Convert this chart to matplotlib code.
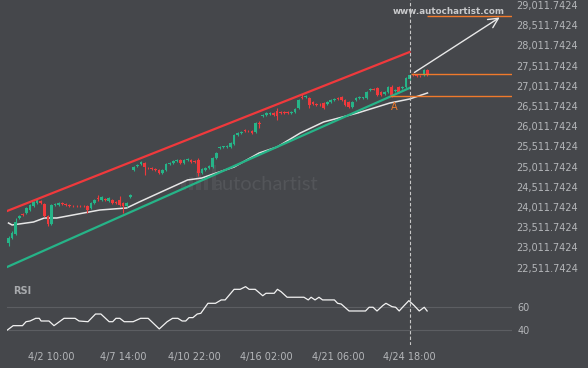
import matplotlib.pyplot as plt
from matplotlib.patches import Rectangle

# candles (4h), index 0..117
opens = [23121, 23245, 23344, 23740, 23839, 23864, 23938, 24037, 24111, 24161,
         24087, 23790, 23592, 24062, 24062, 24111, 24087, 24062, 24037, 24037,
         24037, 24037, 24037, 23988, 24111, 24235, 24186, 24210, 24161, 24186,
         24136, 24186, 24111, 24037, 24260, 24928, 25027, 25077, 25101, 24978,
         24978, 24953, 24928, 24854, 24928, 25077, 25101, 25151, 25176, 25101,
         25176, 25176, 25151, 25176, 24854, 24928, 24978, 25002, 25225, 25473,
         25497, 25497, 25497, 25572, 25794, 25844, 25918, 25893, 25893, 25869,
         26091, 26265, 26289, 26314, 26339, 26388, 26364, 26364, 26364, 26339,
         26364, 26463, 26735, 26735, 26710, 26611, 26562, 26562, 26586, 26562,
         26611, 26660, 26710, 26735, 26660, 26611, 26487, 26660, 26710, 26710,
         26710, 26908, 26933, 26958, 26859, 26809, 26859, 26982, 26883, 26982,
         26958, 26982, 27180, 27304, 27279, 27255, 27279, 27403]
closes = [23245, 23368, 23641, 23790, 23815, 23988, 24062, 24136, 24186, 24111,
          23790, 23592, 24062, 24087, 24111, 24087, 24062, 24037, 24030, 24025,
          24030, 24025, 23938, 24111, 24186, 24210, 24260, 24186, 24235, 24111,
          24111, 24062, 24037, 24111, 24310, 25002, 25052, 25126, 25002, 24970,
          24953, 24928, 24854, 24928, 25077, 25101, 25151, 25176, 25101, 25176,
          25200, 25126, 25126, 24854, 24953, 24978, 25027, 25225, 25349, 25497,
          25510, 25522, 25596, 25794, 25844, 25869, 25893, 25881, 25844, 26091,
          26067, 26289, 26339, 26339, 26289, 26265, 26339, 26339, 26339, 26364,
          26438, 26660, 26710, 26760, 26537, 26562, 26537, 26549, 26463, 26611,
          26660, 26685, 26685, 26660, 26537, 26487, 26611, 26710, 26735, 26722,
          26859, 26933, 26920, 26784, 26784, 26859, 26982, 26784, 26908, 26859,
          26982, 27205, 27279, 27279, 27255, 27242, 27403, 27279]
highs = [23290, 23420, 23740, 23820, 23870, 24010, 24090, 24160, 24230, 24190,
         24110, 23810, 24090, 24110, 24140, 24130, 24100, 24080, 24060, 24060,
         24060, 24060, 24060, 24130, 24210, 24310, 24290, 24240, 24260, 24210,
         24160, 24290, 24130, 24130, 24340, 25030, 25080, 25150, 25130, 25000,
         25000, 24980, 24950, 24950, 25100, 25130, 25180, 25200, 25200, 25200,
         25230, 25200, 25170, 25230, 24980, 25000, 25050, 25250, 25380, 25520,
         25530, 25550, 25620, 25820, 25870, 25890, 25950, 25920, 25910, 26110,
         26140, 26310, 26360, 26360, 26360, 26460, 26390, 26390, 26390, 26390,
         26460, 26690, 26810, 26790, 26740, 26640, 26590, 26590, 26610, 26640,
         26690, 26710, 26740, 26760, 26690, 26640, 26640, 26740, 26760, 26740,
         26880, 26960, 26950, 26990, 26880, 26880, 27010, 27030, 26930, 27010,
         27010, 27230, 27310, 27330, 27300, 27270, 27420, 27420]
lows = [23050, 23220, 23320, 23720, 23790, 23840, 23910, 24010, 24090, 24090,
        23770, 23540, 23560, 24040, 24040, 24060, 24040, 24010, 24010, 24000,
        24010, 24000, 23860, 23960, 24090, 24160, 24160, 24160, 24140, 24090,
        24090, 24040, 23860, 24010, 24240, 24900, 25000, 25050, 24800, 24950,
        24930, 24900, 24830, 24830, 24900, 25060, 25080, 25130, 25080, 25080,
        25150, 25100, 25100, 24780, 24830, 24900, 24950, 24980, 25200, 25450,
        25480, 25470, 25470, 25550, 25770, 25820, 25870, 25860, 25820, 25850,
        25970, 26240, 26270, 26290, 26270, 26170, 26310, 26310, 26310, 26310,
        26340, 26440, 26680, 26710, 26460, 26540, 26510, 26520, 26440, 26540,
        26590, 26640, 26660, 26640, 26510, 26460, 26460, 26640, 26690, 26690,
        26690, 26890, 26900, 26760, 26760, 26790, 26840, 26735, 26860, 26840,
        26940, 26960, 27160, 27260, 27230, 27220, 27260, 27260]

# moving average read at a few points
ma_idx = [0, 1, 7, 10, 13.5, 21, 25.5, 33, 36.5, 42, 50, 54, 58, 63, 70, 75,
          81.5, 88, 97.5, 106.5, 112, 117]
ma_vals = [23616, 23567, 23641, 23740, 23740, 23864, 23938, 23988, 24136, 24359,
           24681, 24730, 24854, 25002, 25349, 25497, 25844, 26116, 26339, 26586,
           26685, 26834]

# channel
chan_idx = [-0.4, 112]
resist_vals = [23913, 27848]
support_vals = [22527, 26958]

# forecast levels
arrow_from = (112.7, 27304)
arrow_to = (137.8, 28740)
level_top = 28740
level_mid = 27304
level_low = 26760
level_top_start = 116.9
level_mid_start = 112.3
level_low_start = 106.6
marker_a = (107.7, 26600)

event_idx = 112

# RSI
rsi_idx = [-0.3, 1.3, 3.9, 4.9, 6.0, 7.6, 8.6, 9.1, 11.3, 12.7, 15.5, 18.6, 19.7,
           22.2, 24.3, 25.8, 28.1, 29.1, 30.0, 31.1, 32.3, 34.8, 36.9, 39.0, 42.1,
           44.3, 45.8, 47.3, 48.5, 49.5, 50.4, 51.5, 52.7, 53.7, 55.7, 57.8, 59.4,
           60.5, 63.0, 64.7, 66.2, 67.2, 68.9, 71.0, 71.9, 74.2, 75.1, 76.1, 77.8,
           82.5, 83.7, 84.5, 85.6, 86.7, 87.7, 91.0, 91.9, 92.9, 95.1, 99.7, 100.7,
           101.8, 102.9, 104.5, 105.4, 107.1, 108.1, 109.1, 110.2, 111.8, 113.3,
           114.7, 116.1, 116.9]
rsi_vals = [40.0, 43.7, 43.7, 47.1, 47.7, 50.0, 50.0, 47.7, 47.7, 43.7, 50.0, 50.0,
            47.7, 47.1, 53.7, 53.7, 47.1, 47.1, 50.0, 50.0, 47.1, 47.1, 50.0, 50.0,
            40.9, 47.1, 50.0, 50.0, 47.7, 47.7, 50.6, 50.6, 53.7, 54.3, 62.9, 62.9,
            65.8, 65.8, 74.9, 74.9, 77.2, 74.9, 74.9, 69.4, 71.5, 71.5, 74.9, 72.9,
            68.1, 68.1, 65.8, 68.1, 65.8, 68.1, 65.8, 65.8, 62.9, 62.3, 56.3, 56.3,
            59.5, 59.5, 56.3, 60.9, 62.9, 60.0, 59.5, 56.3, 60.0, 65.2, 60.9, 56.3,
            59.5, 56.3]

tick_idx = [12, 32, 52, 72, 92, 112]
tick_labels = ["4/2 10:00", "4/7 14:00", "4/10 22:00", "4/16 02:00", "4/21 06:00", "4/24 18:00"]
price_ticks = [22511.7424 + 500 * k for k in range(14)]

bg = "#45474b"
txt = "#b4b6b9"
up_c = "#26b488"
dn_c = "#f0393c"
orange = "#f07a2c"

W, H = 588, 368
fig = plt.figure(figsize=(W / 100, H / 100), dpi=100, facecolor=bg)
ax = fig.add_axes([7 / W, 1 - 278 / H, 505 / W, 278 / H], facecolor=bg)
ar = fig.add_axes([7 / W, 1 - 345 / H, 505 / W, 65 / H], facecolor=bg, sharex=ax)

xmin, xmax = -0.42, 140.6
ax.set_xlim(xmin, xmax)
ax.set_ylim(22255, 29135)
ar.set_ylim(27.1, 82.9)

# watermark
ax.text(0.407, 0.335, "autochartist", transform=ax.transAxes, color="#535559",
        fontsize=14.5, family="Lato", va="center", ha="left", zorder=0)
for bx, bh in [(0.345, 0.03), (0.36, 0.05), (0.375, 0.07), (0.39, 0.05), (0.405, 0.09)]:
    ax.add_patch(Rectangle((bx, 0.315), 0.009, bh, transform=ax.transAxes,
                           color="#4f5155", zorder=0, lw=0))

# candles
for i in range(len(opens)):
    o, c = opens[i], closes[i]
    col = up_c if c >= o else dn_c
    ax.vlines(i, lows[i], highs[i], color=col, lw=0.8, zorder=3)
    ax.bar(i, max(abs(c - o), 14), bottom=min(o, c), width=0.75, color=col,
           lw=0, zorder=3)

ax.plot(ma_idx, ma_vals, color="#e6e6e6", lw=1.1, zorder=2)
ax.plot(chan_idx, resist_vals, color=dn_c, lw=1.6, zorder=4)
ax.plot(chan_idx, support_vals, color=up_c, lw=1.6, zorder=4)

ax.hlines(level_top, level_top_start, xmax, color=orange, lw=1.0, zorder=4)
ax.hlines(level_mid, level_mid_start, xmax, color=orange, lw=1.0, zorder=4)
ax.hlines(level_low, level_low_start, xmax, color=orange, lw=1.0, zorder=4)
ax.annotate("", xy=arrow_to, xytext=arrow_from,
            arrowprops=dict(arrowstyle="->,head_length=0.7,head_width=0.35",
                            color="#e8e8e8", lw=1.0), zorder=5)
ax.text(marker_a[0], marker_a[1], "A", color=orange, fontsize=7, ha="center", va="top")

ax.text(0.985, 0.957, "www.autochartist.com", transform=ax.transAxes, color="#c9cacc",
        fontsize=6.3, ha="right", va="center", fontweight="bold")

for a in (ax, ar):
    a.axvline(event_idx, color="#c8c8c8", lw=0.8, ls=(0, (3, 2)), zorder=6)
    for s in a.spines.values():
        s.set_visible(False)
    a.yaxis.tick_right()
    a.tick_params(length=0, colors=txt, labelsize=7)

ax.set_yticks(price_ticks)
ax.set_yticklabels([f"{v:,.4f}" for v in price_ticks])
ax.tick_params(axis="y", pad=3)
ax.tick_params(axis="x", labelbottom=False)

# RSI
ar.axhline(60, color="#5c5e62", lw=0.8)
ar.axhline(40, color="#5c5e62", lw=0.8)
ar.plot(rsi_idx, rsi_vals, color="#f2f2f2", lw=0.9)
ar.set_yticks([40, 60])
ar.set_yticklabels(["40", "60"])
ar.tick_params(axis="y", pad=4)
ar.set_xticks(tick_idx)
ar.set_xticklabels(tick_labels)
ar.tick_params(axis="x", pad=5)
ar.text(0.012, 0.83, "RSI", transform=ar.transAxes, color="#a8aaad", fontsize=7,
        fontweight="bold", va="center")

fig.savefig("out.png", dpi=100, facecolor=bg)
